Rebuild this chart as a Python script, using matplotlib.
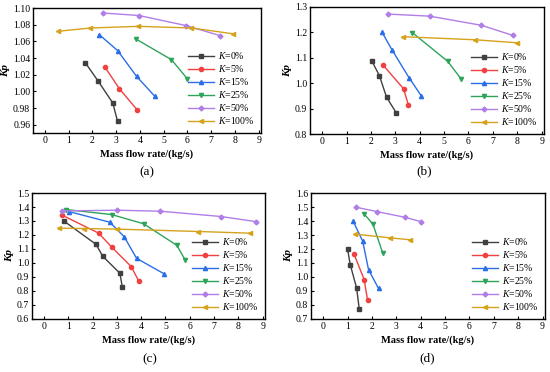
import matplotlib
matplotlib.use("Agg")
import matplotlib.pyplot as plt

plt.rcParams['font.family'] = ['Liberation Serif', 'DejaVu Serif']
plt.rcParams['mathtext.fontset'] = 'custom'
plt.rcParams['mathtext.rm'] = 'Liberation Serif'
plt.rcParams['mathtext.it'] = 'Liberation Serif:italic'
plt.rcParams['mathtext.bf'] = 'Liberation Serif:bold'

labels = ["0%", "5%", "15%", "25%", "50%", "100%"]
colors = ['#404040', '#f04040', '#2a6ee8', '#2ea45a', '#b07ee6', '#d4a21c']
markers = ['s', 'o', '^', 'v', 'D', '<']

# Panel (a)
a_x = [[1.71, 2.25, 2.86, 3.06],
       [2.53, 3.14, 3.88],
       [2.29, 3.06, 3.86, 4.63],
       [3.82, 5.33, 6.00],
       [2.44, 3.96, 5.93, 7.36],
       [0.54, 1.92, 3.94, 6.17, 7.94]]
a_y = [[1.034, 1.012, 0.986, 0.964],
       [1.029, 1.003, 0.978],
       [1.068, 1.049, 1.018, 0.994],
       [1.063, 1.038, 1.015],
       [1.094, 1.091, 1.079, 1.067],
       [1.072, 1.076, 1.078, 1.076, 1.069]]
# Panel (b)
b_x = [[2.03, 2.35, 2.64, 3.04],
       [2.50, 3.34, 3.54],
       [2.46, 2.86, 3.56, 4.06],
       [3.70, 5.15, 5.69],
       [2.72, 4.41, 6.53, 7.83],
       [3.31, 6.28, 8.01]]
b_y = [[1.089, 1.029, 0.945, 0.883],
       [1.071, 0.978, 0.913],
       [1.200, 1.132, 1.022, 0.951],
       [1.199, 1.086, 1.018],
       [1.272, 1.264, 1.228, 1.188],
       [1.183, 1.171, 1.159]]
# Panel (c)
c_x = [[0.82, 2.14, 2.42, 3.12, 3.22],
       [0.75, 2.25, 2.78, 3.59, 3.90],
       [1.03, 2.71, 3.30, 3.81, 4.95],
       [0.89, 2.78, 4.10, 5.47, 5.82],
       [0.75, 2.99, 4.78, 7.29, 8.71],
       [0.62, 1.64, 3.00, 6.36, 8.48]]
c_y = [[1.299, 1.133, 1.047, 0.927, 0.829],
       [1.341, 1.213, 1.114, 0.974, 0.870],
       [1.367, 1.291, 1.187, 1.033, 0.922],
       [1.382, 1.346, 1.280, 1.126, 1.019],
       [1.372, 1.377, 1.370, 1.332, 1.296],
       [1.249, 1.246, 1.242, 1.225, 1.213]]
# Panel (d)
d_x = [[1.00, 1.11, 1.37, 1.48],
       [1.27, 1.68, 1.82],
       [1.23, 1.62, 1.86, 2.27],
       [1.67, 2.04, 2.44],
       [1.36, 2.21, 3.34, 4.00],
       [1.32, 2.73, 3.55]]
d_y = [[1.200, 1.088, 0.922, 0.771],
       [1.162, 0.982, 0.835],
       [1.399, 1.256, 1.053, 0.918],
       [1.453, 1.377, 1.173],
       [1.498, 1.467, 1.427, 1.396],
       [1.306, 1.280, 1.266]]

panels = [
    (a_x, a_y, (0.95, 1.10), [0.96, 0.98, 1.00, 1.02, 1.04, 1.06, 1.08, 1.10], '{:.2f}', '(a)'),
    (b_x, b_y, (0.8, 1.3), [0.8, 0.9, 1.0, 1.1, 1.2, 1.3], '{:.1f}', '(b)'),
    (c_x, c_y, (0.6, 1.5), [0.6, 0.7, 0.8, 0.9, 1.0, 1.1, 1.2, 1.3, 1.4, 1.5], '{:.1f}', '(c)'),
    (d_x, d_y, (0.7, 1.6), [0.7, 0.8, 0.9, 1.0, 1.1, 1.2, 1.3, 1.4, 1.5, 1.6], '{:.1f}', '(d)'),
]

W, H = 550, 372
rects = [(33, 8, 261, 133), (310, 7, 544, 134), (32, 193, 265, 319), (311, 193, 545, 319)]
caps = [(147, 172), (424, 171), (150, 359), (427, 358)]

fig = plt.figure(figsize=(5.5, 3.72), dpi=100)
for (xs, ys, ylim, yt, fmt, cap), (l, t, r, b), (cx, cy) in zip(panels, rects, caps):
    ax = fig.add_axes([l / W, 1 - b / H, (r - l) / W, (b - t) / H])
    for i in range(6):
        ax.plot(xs[i], ys[i], color=colors[i], marker=markers[i],
                markersize=3.0 if markers[i] != 'D' else 2.5,
                linewidth=1.0, label='$K$=' + labels[i])
    ax.set_xlim(-0.5, 9.1)
    ax.set_ylim(*ylim)
    ax.set_xticks(range(10))
    ax.set_yticks(yt)
    ax.set_yticklabels([fmt.format(v) for v in yt])
    ax.tick_params(direction='in', length=2.5, width=0.8, labelsize=7, pad=2)
    for s in ax.spines.values():
        s.set_linewidth(1.0)
    ax.set_xlabel('Mass flow rate/(kg/s)', fontsize=7.5, fontweight='bold', labelpad=3)
    ax.set_ylabel('Kp', fontsize=8, fontweight='bold', fontstyle='italic', labelpad=2)
    ax.legend(loc='lower right', frameon=False, fontsize=7, handlelength=2.6,
              labelspacing=0.2, handletextpad=0.4, borderaxespad=0.3)
    fig.text(cx / W, 1 - cy / H, cap, ha='center', va='center', fontsize=9.5)

fig.savefig('out.png', dpi=100)
